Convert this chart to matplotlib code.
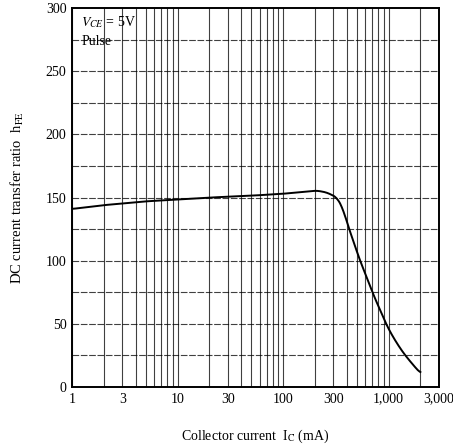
import numpy as np
import matplotlib
matplotlib.use('Agg')
import matplotlib.pyplot as plt
from matplotlib.ticker import FixedLocator, NullFormatter

plt.rcParams['font.family'] = ['Liberation Serif', 'DejaVu Serif']
plt.rcParams['mathtext.fontset'] = 'stix'

# Curve (collector current in mA, hFE)
ic_ma = [1, 2, 5, 10, 20, 50, 100, 150, 210, 260, 325, 370, 415, 470, 536, 620, 710, 830, 970, 1150, 1380, 1650, 2000]
hfe = [141, 144, 147, 148.5, 150, 151.5, 153, 154.5, 155.5, 154, 150, 141, 127, 114, 100, 87, 74, 61, 48, 37, 27, 19, 11]

x_ticks = [1, 3, 10, 30, 100, 300, 1000, 3000]
x_tick_labels = ['1', '3', '10', '30', '100', '300', '1,000', '3,000']
y_ticks = [0, 50, 100, 150, 200, 250, 300]

fig = plt.figure(figsize=(4.53, 4.48), dpi=100)
ax = fig.add_axes([0.159, 0.136, 0.81, 0.846])

# Interpolate smoothly in log-x for drawing
lx = np.log10(ic_ma)
xs = np.linspace(lx[0], lx[-1], 400)
ys = np.interp(xs, lx, hfe)
kernel = np.ones(9) / 9
ys_s = np.convolve(np.pad(ys, 4, mode='edge'), kernel, mode='valid')
ax.plot(10 ** xs, ys_s, color='black', lw=1.4, zorder=3)

ax.set_xscale('log')
ax.set_xlim(1, 3000)
ax.set_ylim(0, 300)

# Grid: every 1..9 per decade, every 25 in y
minor_x = [m * 10 ** d for d in range(0, 4) for m in range(1, 10) if m * 10 ** d <= 3000]
for v in minor_x:
    ax.axvline(v, color='black', lw=0.8, alpha=0.75, zorder=1)
for v in np.arange(25, 300, 25):
    ax.axhline(v, color='black', lw=0.8, alpha=0.75, ls=(0, (6, 1.5)), zorder=1)

ax.xaxis.set_major_locator(FixedLocator(x_ticks))
ax.set_xticklabels(x_tick_labels)
ax.xaxis.set_minor_formatter(NullFormatter())
ax.xaxis.set_minor_locator(FixedLocator([]))
ax.set_yticks(y_ticks)
ax.tick_params(length=0, labelsize=10, pad=4)

for s in ax.spines.values():
    s.set_linewidth(1.4)

ax.text(0.025, 0.985, r'$V_{CE}$ = 5V', transform=ax.transAxes, fontsize=10, va='top')
ax.text(0.025, 0.93, 'Pulse', transform=ax.transAxes, fontsize=10, va='top')

ax.set_xlabel(r'Collector current  I$_\mathrm{C}$ (mA)', fontsize=10, labelpad=16)
ax.set_ylabel(r'DC current transfer ratio  h$_\mathrm{FE}$', fontsize=10.5, labelpad=14)

fig.savefig('out.png', dpi=100)
